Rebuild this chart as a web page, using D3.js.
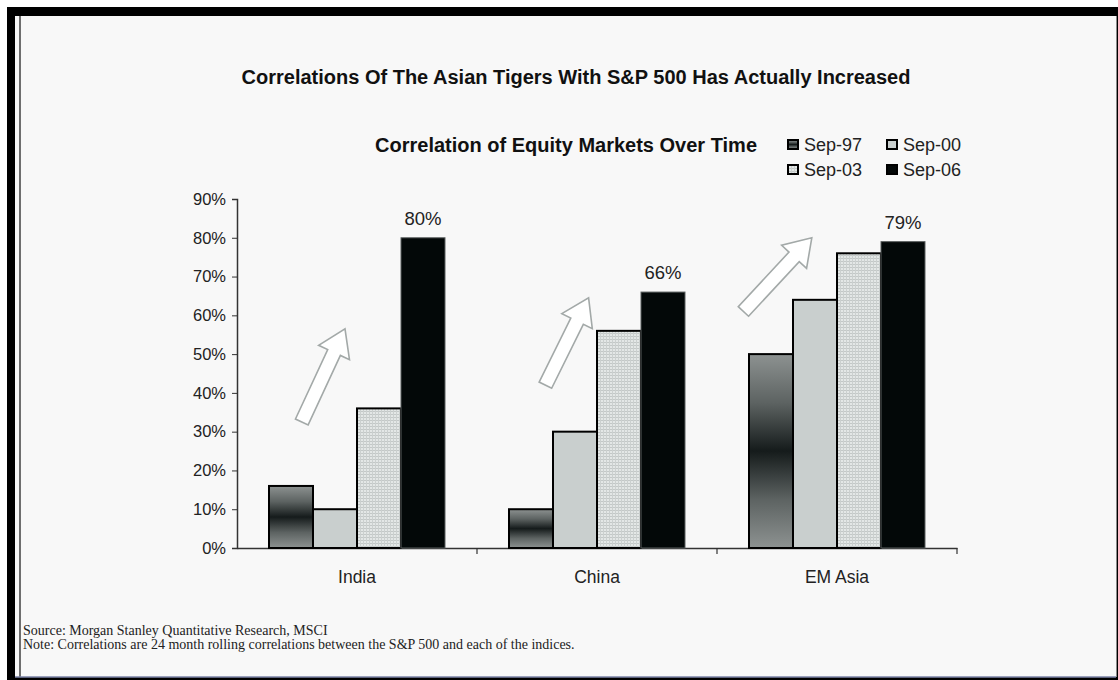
<!DOCTYPE html>
<html>
<head>
<meta charset="utf-8">
<script src="https://cdn.jsdelivr.net/npm/d3@7"></script>
<style>
  html, body { margin: 0; padding: 0; background: #ffffff; }
  svg { display: block; }
</style>
</head>
<body>
<svg id="chart" width="1118" height="680"></svg>
<script>
// Correlation of equity markets with the S&P 500 (percent)
const categories = ["India", "China", "EM Asia"];
const seriesNames = ["Sep-97", "Sep-00", "Sep-03", "Sep-06"];
const sep97 = [16, 10, 50];
const sep00 = [10, 30, 64];
const sep03 = [36, 56, 76];
const sep06 = [80, 66, 79];
const yTicks = [0, 10, 20, 30, 40, 50, 60, 70, 80, 90];
const title = "Correlations Of The Asian Tigers With S&P 500 Has Actually Increased";
const subtitle = "Correlation of Equity Markets Over Time";
const sourceLines = [
  "Source: Morgan Stanley Quantitative Research, MSCI",
  "Note: Correlations are 24 month rolling correlations between the S&P 500 and each of the indices."
];
// Trend arrows per category: [tail position in band, tail %, head position in band, head %]
const arrowTail = [[0.27, 32.5], [0.285, 42], [0.11, 61]];
const arrowHead = [[0.45, 56.5], [0.465, 64.5], [0.395, 80]];

const series = [sep97, sep00, sep03, sep06];
const svg = d3.select("#chart");
const W = 1118, H = 680;
const SANS = "'Liberation Sans', Arial, sans-serif";

// ---- outer frame ----
svg.append("rect").attr("x", 0).attr("y", 0).attr("width", W).attr("height", H).attr("fill", "#ffffff");
svg.append("rect").attr("x", 7).attr("y", 7).attr("width", W - 7).attr("height", H - 7).attr("fill", "#000000");
svg.append("rect").attr("x", 15).attr("y", 16).attr("width", 1101).attr("height", 661).attr("fill", "#f8f8f8");
svg.append("line").attr("x1", 20).attr("x2", 20).attr("y1", 16).attr("y2", 677)
  .attr("stroke", "#6e6e6e").attr("stroke-width", 2);
svg.append("line").attr("x1", 15).attr("x2", 1116).attr("y1", 677).attr("y2", 677)
  .attr("stroke", "#7d84a8").attr("stroke-width", 1.5);
svg.append("line").attr("x1", 1116.5).attr("x2", 1116.5).attr("y1", 16).attr("y2", 677)
  .attr("stroke", "#8a8a8a").attr("stroke-width", 1);

// ---- paint servers ----
const defs = svg.append("defs");
const grad = defs.append("linearGradient").attr("id", "g97")
  .attr("x1", 0).attr("y1", 0).attr("x2", 0).attr("y2", 1);
[[0, "#8d9291"], [0.25, "#5d6362"], [0.5, "#151b1b"], [0.75, "#5d6362"], [1, "#8d9291"]]
  .forEach(([o, c]) => grad.append("stop").attr("offset", o).attr("stop-color", c));
const pat = defs.append("pattern").attr("id", "p03").attr("patternUnits", "userSpaceOnUse")
  .attr("width", 3).attr("height", 3);
pat.append("rect").attr("width", 3).attr("height", 3).attr("fill", "#e3e7e6");
pat.append("rect").attr("width", 3).attr("height", 1).attr("fill", "#c3c8c7");
pat.append("rect").attr("width", 1).attr("height", 3).attr("fill", "#cbd0cf");

const fills = ["url(#g97)", "#c9cfce", "url(#p03)", "#030808"];
const strokes = ["#000000", "#000000", "#000000", "#5a5f5f"];
const strokeW = [2, 2, 2, 1];

// ---- scales ----
const x0 = d3.scaleBand().domain(categories).range([237, 957]).paddingInner(0).paddingOuter(0);
const x1 = d3.scaleBand().domain(seriesNames).range([32, x0.bandwidth() - 32]).padding(0);
const y = d3.scaleLinear().domain([0, 90]).range([548, 199]);

// ---- titles ----
svg.append("text").attr("x", 576).attr("y", 84).attr("text-anchor", "middle")
  .style("font", `bold 20px ${SANS}`).attr("fill", "#111")
  .text(title);
svg.append("text").attr("x", 757).attr("y", 152).attr("text-anchor", "end")
  .style("font", `bold 20px ${SANS}`).attr("fill", "#111")
  .text(subtitle);

// ---- legend ----
const legPos = [[788, 140], [887, 140], [788, 165], [887, 165]];
seriesNames.forEach((name, i) => {
  const g = svg.append("g").attr("transform", `translate(${legPos[i][0]},${legPos[i][1]})`);
  g.append("rect").attr("x", 0).attr("y", 0).attr("width", 10).attr("height", 9)
    .attr("fill", fills[i]).attr("stroke", "#000").attr("stroke-width", 2);
  g.append("text").attr("x", 16).attr("y", 11)
    .style("font", `18px ${SANS}`).attr("fill", "#222")
    .text(name);
});

// ---- axes ----
const yAxis = d3.axisLeft(y).tickValues(yTicks).tickFormat(d => d + "%").tickSize(5).tickPadding(6);
const gy = svg.append("g").attr("transform", "translate(237,0)").call(yAxis);
gy.select(".domain").attr("stroke", "#333").attr("stroke-width", 1.5);
gy.selectAll(".tick line").attr("stroke", "#333");
gy.selectAll(".tick text").style("font", `16.5px ${SANS}`).attr("fill", "#222");

const xAxis = d3.axisBottom(x0).tickSize(0).tickPadding(23);
const gx = svg.append("g").attr("transform", "translate(0,548)").call(xAxis);
gx.select(".domain").attr("stroke", "#333").attr("stroke-width", 1.5);
gx.selectAll(".tick text").style("font", `17.5px ${SANS}`).attr("fill", "#222");
// category separators
gx.selectAll(".sep").data(categories).enter().append("line")
  .attr("x1", d => x0(d) + x0.bandwidth()).attr("x2", d => x0(d) + x0.bandwidth())
  .attr("y1", 0).attr("y2", 6).attr("stroke", "#333").attr("stroke-width", 1.2);

// ---- trend arrows ----
function arrowPath(t, h) {
  const dx = h[0] - t[0], dy = h[1] - t[1];
  const len = Math.hypot(dx, dy);
  const ux = dx / len, uy = dy / len, px = -uy, py = ux;
  const sw = 7, hw = 17, hl = 26;
  const bx = h[0] - ux * hl, by = h[1] - uy * hl;
  const pts = [
    [t[0] + px * sw, t[1] + py * sw],
    [bx + px * sw, by + py * sw],
    [bx + px * hw, by + py * hw],
    [h[0], h[1]],
    [bx - px * hw, by - py * hw],
    [bx - px * sw, by - py * sw],
    [t[0] - px * sw, t[1] - py * sw]
  ];
  return "M" + pts.map(p => p.join(",")).join("L") + "Z";
}
svg.selectAll(".trend").data(categories).enter().append("path")
  .attr("class", "trend")
  .attr("d", (c, i) => arrowPath(
    [x0(c) + arrowTail[i][0] * x0.bandwidth(), y(arrowTail[i][1])],
    [x0(c) + arrowHead[i][0] * x0.bandwidth(), y(arrowHead[i][1])]))
  .attr("fill", "#ffffff").attr("stroke", "#a3a9a8").attr("stroke-width", 1.6)
  .attr("stroke-linejoin", "miter");

// ---- bars ----
const groups = svg.selectAll(".grp").data(categories).enter().append("g")
  .attr("transform", d => `translate(${x0(d)},0)`);
groups.each(function (c, ci) {
  const g = d3.select(this);
  seriesNames.forEach((s, si) => {
    const v = series[si][ci];
    g.append("rect")
      .attr("x", x1(s)).attr("y", y(v))
      .attr("width", x1.bandwidth()).attr("height", y(0) - y(v))
      .attr("fill", fills[si]).attr("stroke", strokes[si]).attr("stroke-width", strokeW[si]);
  });
  // value label on the latest bar
  const v = sep06[ci];
  g.append("text")
    .attr("x", x1("Sep-06") + x1.bandwidth() / 2).attr("y", y(v) - 13)
    .attr("text-anchor", "middle")
    .style("font", `18.5px ${SANS}`).attr("fill", "#222")
    .text(v + "%");
});

// ---- source notes ----
svg.selectAll(".src").data(sourceLines).enter().append("text")
  .attr("x", 23).attr("y", (d, i) => 635 + i * 14)
  .style("font", "14px 'Liberation Serif', 'Times New Roman', serif").attr("fill", "#222")
  .text(d => d);
</script>
</body>
</html>
